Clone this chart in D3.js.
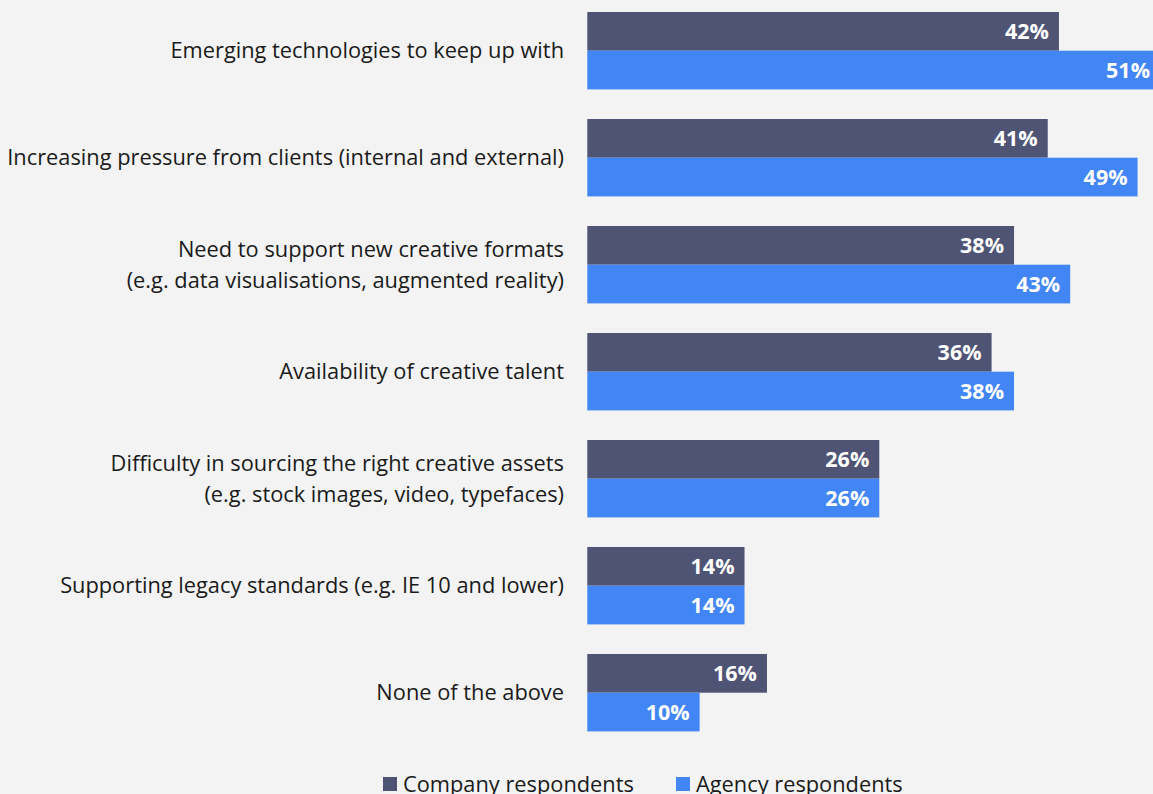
<!DOCTYPE html>
<html>
<head>
<meta charset="utf-8">
<script src="https://cdn.jsdelivr.net/npm/d3@7/dist/d3.min.js"></script>
<style>
  html, body { margin: 0; padding: 0; background: #f3f3f3; overflow: hidden; }
  svg { display: block; }
  text { font-family: "Open Sans", "Noto Sans", sans-serif; }
</style>
</head>
<body>
<svg id="chart" width="1153" height="794"></svg>
<script>
// Survey answers: each category is a list of label lines
const categories = [
  ["Emerging technologies to keep up with"],
  ["Increasing pressure from clients (internal and external)"],
  ["Need to support new creative formats", "(e.g. data visualisations, augmented reality)"],
  ["Availability of creative talent"],
  ["Difficulty in sourcing the right creative assets", "(e.g. stock images, video, typefaces)"],
  ["Supporting legacy standards (e.g. IE 10 and lower)"],
  ["None of the above"]
];
const seriesNames = ["Company respondents", "Agency respondents"];
const companyValues = [42, 41, 38, 36, 26, 14, 16];
const agencyValues  = [51, 49, 43, 38, 26, 14, 10];
const seriesColors = ["#4f5475", "#4285f4"];

const svg = d3.select("#chart");
const W = 1153, H = 794;
svg.append("rect").attr("width", W).attr("height", H).attr("fill", "#f3f3f3");

const x0 = 587.3;
const x = d3.scaleLinear().domain([0, 100]).range([x0, x0 + 1123]);

const idx = d3.range(categories.length);
const y = d3.scaleBand().domain(idx).range([12, 731.4]).paddingInner(0.2766).paddingOuter(0);
const ySub = d3.scaleBand().domain([0, 1]).range([0, y.bandwidth()]);

const rows = idx.map(i => ({ i, vals: [companyValues[i], agencyValues[i]] }));

const g = svg.selectAll("g.group").data(rows).join("g")
  .attr("class", "group")
  .attr("transform", d => `translate(0,${y(d.i)})`);

// bars
g.selectAll("rect.bar").data(d => d.vals.map((v, s) => ({ v, s }))).join("rect")
  .attr("class", "bar")
  .attr("x", x(0))
  .attr("y", d => ySub(d.s))
  .attr("width", d => x(d.v) - x(0))
  .attr("height", ySub.bandwidth())
  .attr("fill", d => seriesColors[d.s]);

// value labels inside bar ends
g.selectAll("text.val").data(d => d.vals.map((v, s) => ({ v, s }))).join("text")
  .attr("class", "val")
  .attr("x", d => x(d.v) - 10)
  .attr("y", d => ySub(d.s) + ySub.bandwidth() / 2)
  .attr("dy", "0.36em")
  .attr("text-anchor", "end")
  .attr("fill", "#ffffff")
  .attr("font-weight", "700")
  .attr("font-size", 21.5)
  .text(d => d.v + "%");

// category labels, right aligned before the bars
const lineGap = 31;
g.append("text")
  .attr("class", "cat")
  .attr("text-anchor", "end")
  .attr("font-size", 21.8)
  .attr("fill", "#1a1a1a")
  .each(function(d) {
    const lines = categories[d.i];
    const c = y.bandwidth() / 2;
    const start = c - (lines.length - 1) * lineGap / 2;
    d3.select(this).selectAll("tspan").data(lines).join("tspan")
      .attr("x", 564)
      .attr("y", (l, k) => start + k * lineGap)
      .attr("dy", "0.35em")
      .text(l => l);
  });

// legend
const legendX = [383, 676];
const lg = svg.selectAll("g.legend").data(seriesNames).join("g")
  .attr("class", "legend")
  .attr("transform", (d, k) => `translate(${legendX[k]},777)`);
lg.append("rect").attr("width", 14).attr("height", 14).attr("fill", (d, k) => seriesColors[k]);
lg.append("text")
  .attr("x", 20).attr("y", 7).attr("dy", "0.36em")
  .attr("font-size", 21.8)
  .attr("fill", "#1a1a1a")
  .text(d => d);
</script>
</body>
</html>
